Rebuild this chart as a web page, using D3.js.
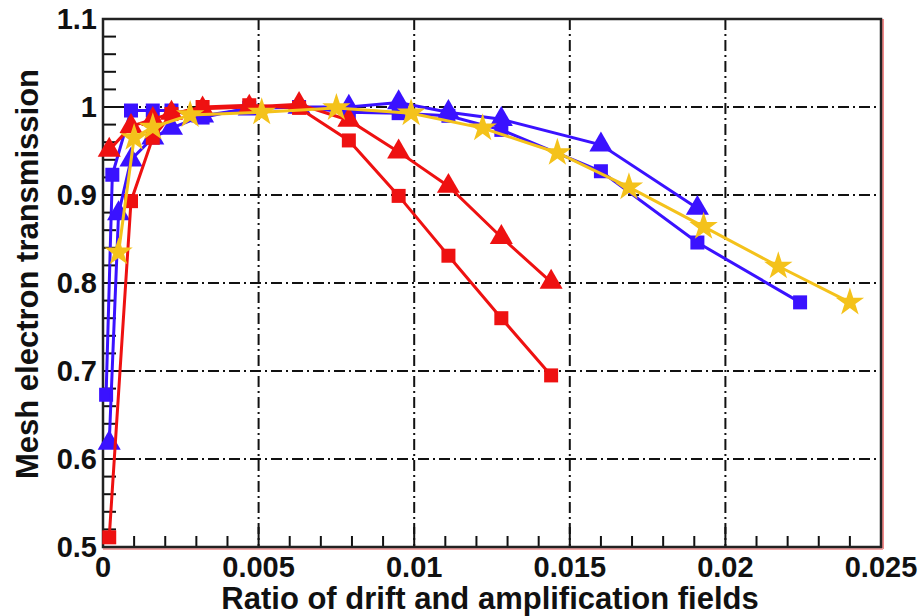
<!DOCTYPE html>
<html lang="en">
    <head>
        <title>Mesh transmission</title>
        <script src="https://d3js.org/d3.v7.min.js"></script>
        <style>
            body { margin: 0; background: #fff; }
            text { font-family: "Liberation Sans", Arial, sans-serif; font-weight: bold; fill: #111; }
        </style>
    </head>
    <body>
        <script>

            // data
            var blueSqX  = [0.0001, 0.0003, 0.0009, 0.0016, 0.0022, 0.0032, 0.0047, 0.0063, 0.0079, 0.0095, 0.0111, 0.0128, 0.0160, 0.0191, 0.0224];
            var blueSqY  = [0.673, 0.923, 0.996, 0.996, 0.996, 0.988, 0.999, 1.000, 0.994, 0.993, 0.990, 0.974, 0.927, 0.846, 0.778];
            var blueTrX  = [0.0002, 0.0005, 0.0009, 0.0016, 0.0022, 0.0032, 0.0047, 0.0063, 0.0079, 0.0095, 0.0111, 0.0128, 0.0160, 0.0191];
            var blueTrY  = [0.618, 0.879, 0.940, 0.965, 0.976, 0.990, 0.998, 1.000, 1.000, 1.005, 0.994, 0.986, 0.957, 0.885];
            var redSqX   = [0.0002, 0.0009, 0.0016, 0.0022, 0.0032, 0.0047, 0.0063, 0.0079, 0.0095, 0.0111, 0.0128, 0.0144];
            var redSqY   = [0.511, 0.893, 0.965, 0.992, 1.000, 1.002, 0.999, 0.962, 0.899, 0.831, 0.760, 0.695];
            var redTrX   = [0.0002, 0.0009, 0.0016, 0.0022, 0.0032, 0.0047, 0.0063, 0.0079, 0.0095, 0.0111, 0.0128, 0.0144];
            var redTrY   = [0.951, 0.978, 0.986, 0.993, 0.998, 1.000, 1.003, 0.985, 0.949, 0.910, 0.852, 0.801];
            var starX    = [0.0005, 0.0010, 0.0016, 0.0028, 0.0051, 0.0075, 0.0099, 0.0122, 0.0146, 0.0169, 0.0193, 0.0217, 0.0240];
            var starY    = [0.835, 0.965, 0.977, 0.991, 0.994, 0.999, 0.993, 0.976, 0.948, 0.909, 0.864, 0.819, 0.778];

            var xTicks = [0, 0.005, 0.01, 0.015, 0.02, 0.025];
            var xTickLabels = ["0", "0.005", "0.01", "0.015", "0.02", "0.025"];
            var yTicks = [0.5, 0.6, 0.7, 0.8, 0.9, 1.0, 1.1];
            var yTickLabels = ["0.5", "0.6", "0.7", "0.8", "0.9", "1", "1.1"];

            var width = 922, height = 616;
            var pLeft = 103, pRight = 881, pTop = 19, pBottom = 547;

            var svg = d3.select("body").append("svg")
                .attr("width", width)
                .attr("height", height);

            var x = d3.scaleLinear().domain([0, 0.025]).range([pLeft, pRight]);
            var y = d3.scaleLinear().domain([0.5, 1.1]).range([pBottom, pTop]);

            // grid, dash-dot
            var grid = svg.append("g");
            grid.selectAll("line.vx").data(xTicks.slice(1, -1)).enter().append("line")
                .attr("x1", function(d) { return x(d); }).attr("x2", function(d) { return x(d); })
                .attr("y1", pTop).attr("y2", pBottom)
                .attr("stroke", "#111").attr("stroke-width", 2)
                .attr("stroke-dasharray", "11,4,2,4");
            grid.selectAll("line.hy").data(yTicks.slice(1, -1)).enter().append("line")
                .attr("y1", function(d) { return y(d); }).attr("y2", function(d) { return y(d); })
                .attr("x1", pLeft).attr("x2", pRight)
                .attr("stroke", "#111").attr("stroke-width", 2)
                .attr("stroke-dasharray", "11,4,2,4");

            // minor ticks
            var xMinor = d3.range(0, 0.02501, 0.001);
            svg.append("g").selectAll("line").data(xMinor).enter().append("line")
                .attr("x1", function(d) { return x(d); }).attr("x2", function(d) { return x(d); })
                .attr("y1", pBottom).attr("y2", function(d, i) { return i % 5 == 0 ? pBottom - 20 : pBottom - 11; })
                .attr("stroke", "#111").attr("stroke-width", 2);
            var yMinor = d3.range(0.5, 1.1001, 0.02);
            svg.append("g").selectAll("line").data(yMinor).enter().append("line")
                .attr("y1", function(d) { return y(d); }).attr("y2", function(d) { return y(d); })
                .attr("x1", pLeft).attr("x2", function(d, i) { return i % 5 == 0 ? pLeft + 22 : pLeft + 13; })
                .attr("stroke", "#111").attr("stroke-width", 2);

            // frame
            svg.append("line").attr("x1", pRight + 2).attr("x2", pRight + 2).attr("y1", pTop).attr("y2", pBottom + 2)
                .attr("stroke", "#f08a8a").attr("stroke-width", 2);
            svg.append("line").attr("x1", pLeft).attr("x2", pRight + 2).attr("y1", pBottom + 2).attr("y2", pBottom + 2)
                .attr("stroke", "#f3a5a5").attr("stroke-width", 2);
            svg.append("rect")
                .attr("x", pLeft).attr("y", pTop)
                .attr("width", pRight - pLeft).attr("height", pBottom - pTop)
                .attr("fill", "none").attr("stroke", "#222").attr("stroke-width", 2.5);

            // tick labels
            svg.append("g").selectAll("text").data(xTicks).enter().append("text")
                .attr("x", function(d) { return x(d); })
                .attr("y", 577)
                .attr("text-anchor", "middle")
                .style("font-size", "29px")
                .text(function(d, i) { return xTickLabels[i]; });
            svg.append("g").selectAll("text").data(yTicks).enter().append("text")
                .attr("x", 97)
                .attr("y", function(d) { return y(d) + 10; })
                .attr("text-anchor", "end")
                .style("font-size", "29px")
                .text(function(d, i) { return yTickLabels[i]; });

            // axis titles
            svg.append("text")
                .attr("x", 490).attr("y", 609)
                .attr("text-anchor", "middle")
                .style("font-size", "31px")
                .text("Ratio of drift and amplification fields");
            svg.append("text")
                .attr("transform", "translate(38," + 274 + ")rotate(-90)")
                .attr("text-anchor", "middle")
                .style("font-size", "31px")
                .text("Mesh electron transmission");

            // series
            var series = [
                {xs: blueSqX, ys: blueSqY, color: "#3a12ff", sym: d3.symbolSquare, size: 196},
                {xs: blueTrX, ys: blueTrY, color: "#3a12ff", sym: d3.symbolTriangle, size: 230},
                {xs: redSqX,  ys: redSqY,  color: "#ee1111", sym: d3.symbolSquare, size: 196},
                {xs: redTrX,  ys: redTrY,  color: "#ee1111", sym: d3.symbolTriangle, size: 230},
                {xs: starX,   ys: starY,   color: "#f4c21b", sym: d3.symbolStar, size: 250}
            ];

            var line = d3.line()
                .x(function(d) { return x(d[0]); })
                .y(function(d) { return y(d[1]); });

            var plot = svg.append("g");
            series.forEach(function(s) {
                var pts = s.xs.map(function(v, i) { return [v, s.ys[i]]; });
                plot.append("path")
                    .attr("d", line(pts))
                    .attr("fill", "none")
                    .attr("stroke", s.color)
                    .attr("stroke-width", 3);
                plot.selectAll(null).data(pts).enter().append("path")
                    .attr("d", d3.symbol().type(s.sym).size(s.size))
                    .attr("transform", function(d) { return "translate(" + x(d[0]) + "," + y(d[1]) + ")"; })
                    .attr("fill", s.color);
            });

        </script>
    </body>
</html>
